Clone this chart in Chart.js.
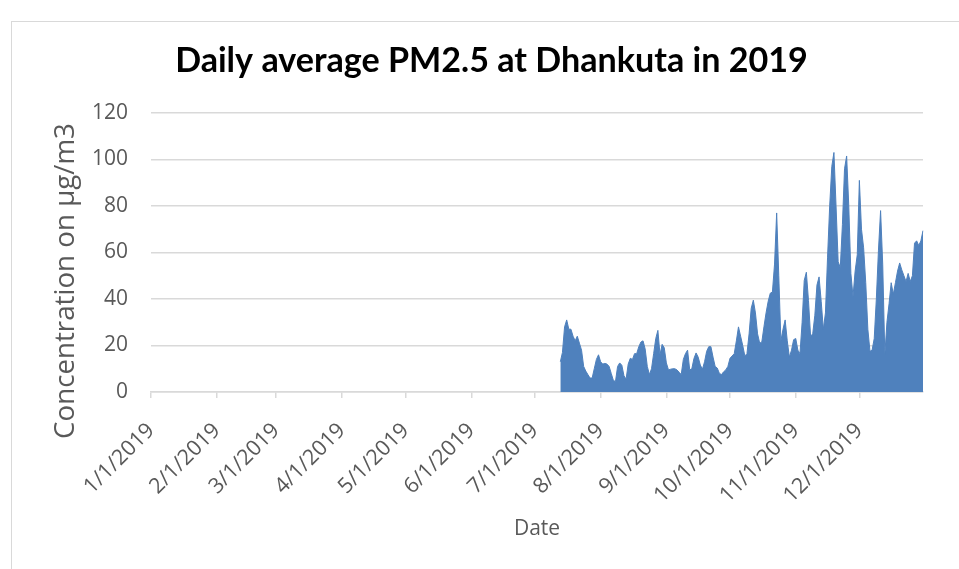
<!DOCTYPE html>
<html>
<head>
<meta charset="utf-8">
<title>Daily average PM2.5 at Dhankuta in 2019</title>
<script src="https://cdn.jsdelivr.net/npm/chart.js@4.4.1/dist/chart.umd.min.js"></script>
<style>
    html, body { margin: 0; padding: 0; background: #ffffff; overflow: hidden; }
    #wrap { position: relative; width: 959px; height: 569px; }
    #frame { position: absolute; left: 11px; top: 21px; width: 960px; height: 560px; border: 1px solid #d9d9d9; box-sizing: border-box; }
    #chart { position: absolute; left: 0; top: 0; }
</style>
</head>
<body>
<div id="wrap">
    <div id="frame"></div>
    <canvas id="chart" width="959" height="569"></canvas>
</div>
<script>
// === Data ===
const YEAR = 2019;
const TITLE = "Daily average PM2.5 at Dhankuta in 2019";
const Y_TITLE = "Concentration on µg/m3";
const X_TITLE = "Date";
const Y_TICKS = [0, 20, 40, 60, 80, 100, 120];

// first day with a reading, then one value per day to 12/31
const firstReading = "7/13/2019";
const pm25 = [
    13, 17, 28, 31, 27, 27, 24, 22, 24, 21, 18, 11, 9, 7.5, 6, 6, 10, 14, 16, 13,
    12, 12.3, 12, 11, 8, 5, 4.5, 11, 12.5, 11.5, 7, 5.5, 12, 14.5, 14, 16.5, 16.5, 19.5, 21.5, 22,
    18.5, 11, 7.5, 10, 16.5, 23, 26.5, 16, 20.5, 19, 12.5, 9.5, 9.8, 10, 10, 9.5, 8.5, 7.5, 14, 16.5,
    18, 9.5, 10, 14.4, 16.8, 15, 11.6, 9.8, 13, 17.5, 19.5, 19.5, 15, 11, 10.3, 8, 7.5, 8.7, 9.5, 11,
    14.5, 15.5, 16.5, 22, 28, 24, 20, 15.5, 16.5, 25, 36, 39.5, 34, 25, 21, 21.5, 28, 34, 39, 42.5,
    43, 55, 77, 50, 22, 27, 31, 22, 15, 18, 22.5, 23, 18, 16.5, 30, 48, 51.5, 39.4, 24, 25,
    33, 46, 49.5, 39, 27, 34, 58, 80, 97, 103, 80, 56, 53.5, 72, 96, 101.5, 80, 51, 41, 52,
    59, 91, 70, 62, 47, 27, 17.5, 18, 23, 40, 61, 78, 55, 16, 30, 38, 47, 42, 47, 52,
    55.5, 52.5, 50, 47.5, 51, 47.5, 50, 64, 65, 63, 65, 69.4
];

// === Build daily labels for the year ===
const dates = [];
for (let d = new Date(YEAR, 0, 1); d.getFullYear() === YEAR; d.setDate(d.getDate() + 1)) {
    dates.push(`${d.getMonth() + 1}/${d.getDate()}/${YEAR}`);
}
const startIndex = dates.indexOf(firstReading);
const series = dates.map((_, i) => (i >= startIndex && i - startIndex < pm25.length ? pm25[i - startIndex] : null));

// === Fit a font size to a width ===
const measureCtx = document.createElement("canvas").getContext("2d");
const fitSize = (text, weight, family, width) => {
    measureCtx.font = `${weight} 100px ${family}`;
    return (100 * width) / measureCtx.measureText(text).width;
};
const titleSize = fitSize(TITLE, "bold", "Lato", 633);
const yTitleSize = fitSize(Y_TITLE, "normal", "'Open Sans'", 316);

const GREY_TEXT = "#595959";
const GRID = "#d9d9d9";

// === Y axis title, centered where the original sits ===
const yTitlePlugin = {
    id: "yTitle",
    afterDraw(chart) {
        const ctx = chart.ctx;
        ctx.save();
        ctx.translate(66, 281);
        ctx.rotate(-Math.PI / 2);
        ctx.font = `${yTitleSize}px 'Open Sans'`;
        ctx.fillStyle = GREY_TEXT;
        ctx.textAlign = "center";
        ctx.textBaseline = "middle";
        ctx.fillText(Y_TITLE, 0, 0);
        ctx.restore();
    },
};

// === Chart ===
const ctx = document.getElementById("chart").getContext("2d");
new Chart(ctx, {
    type: "line",
    data: {
        labels: dates,
        datasets: [{
            label: "PM2.5",
            data: series,
            fill: "origin",
            backgroundColor: "#4f81bd",
            borderColor: "#4f81bd",
            borderWidth: 1,
            pointRadius: 0,
            tension: 0,
            spanGaps: false,
        }],
    },
    options: {
        responsive: false,
        animation: false,
        layout: { padding: { left: 60, right: 36, top: 22, bottom: 10 } },
        plugins: {
            legend: { display: false },
            tooltip: { enabled: false },
            title: {
                display: true,
                text: TITLE,
                color: "#000000",
                font: { family: "Lato", weight: "bold", size: titleSize, lineHeight: 1.2 },
                padding: { top: 19, bottom: 31 },
            },
        },
        scales: {
            x: {
                type: "category",
                afterFit: (scale) => { scale.height = 167; },
                border: { color: GRID, width: 1.5 },
                grid: {
                    drawOnChartArea: false,
                    drawTicks: true,
                    tickLength: 6,
                    color: GRID,
                    lineWidth: 1.5,
                },
                ticks: {
                    autoSkip: false,
                    maxRotation: 45,
                    minRotation: 45,
                    padding: 20,
                    color: GREY_TEXT,
                    font: { family: "'Open Sans'", size: 21.5 },
                    callback: (value, index) => (dates[index].split("/")[1] === "1" ? dates[index] : null),
                },
                title: {
                    display: true,
                    text: X_TITLE,
                    color: GREY_TEXT,
                    font: { family: "'Open Sans'", size: 21, lineHeight: 1.2 },
                    padding: { top: 0, bottom: 17 },
                },
            },
            y: {
                min: Y_TICKS[0],
                max: Y_TICKS[Y_TICKS.length - 1],
                afterFit: (scale) => { scale.width = 91; },
                afterBuildTicks: (scale) => { scale.ticks = Y_TICKS.map((v) => ({ value: v })); },
                border: { display: false },
                grid: { color: GRID, lineWidth: 1.5, drawTicks: false },
                ticks: {
                    padding: 23,
                    color: GREY_TEXT,
                    font: { family: "'Open Sans'", size: 21 },
                },
            },
        },
    },
    plugins: [yTitlePlugin],
});
</script>
</body>
</html>
